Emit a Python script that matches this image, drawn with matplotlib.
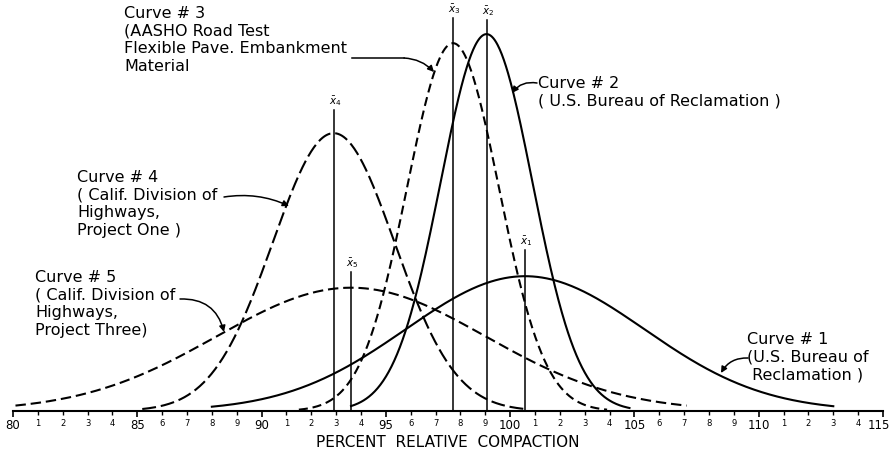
import numpy as np
import matplotlib
matplotlib.use("Agg")
import matplotlib.pyplot as plt
from matplotlib.transforms import ScaledTranslation

# Curves 1..5 (means are the x-bar lines)
curve_ids = ["1", "2", "3", "4", "5"]
means = [100.6, 99.05, 97.7, 92.9, 93.6]
std_devs = [4.8, 1.85, 1.85, 2.45, 5.4]
peak_heights = [0.328, 0.917, 0.895, 0.676, 0.300]
x_start = [88.0, 93.6, 91.5, 85.2, 80.1]
x_end = [113.0, 104.8, 103.9, 100.6, 107.1]

# tops of the x-bar marker lines (same scale as the curves)
xbar_tops = [0.392, 0.951, 0.956, 0.732, 0.338]

labels = {
    "1": "Curve # 1\n(U.S. Bureau of\n Reclamation )",
    "2": "Curve # 2\n( U.S. Bureau of Reclamation )",
    "3": "Curve # 3\n(AASHO Road Test\nFlexible Pave. Embankment\nMaterial",
    "4": "Curve # 4\n( Calif. Division of\nHighways,\nProject One )",
    "5": "Curve # 5\n( Calif. Division of\nHighways,\nProject Three)",
}

major_ticks = list(range(80, 116, 5))
minor_ticks = [t for t in range(80, 116) if t % 5 != 0]
major_labels = [str(t) for t in major_ticks]
minor_labels = [str(t % 10) for t in minor_ticks]

W, H = 892, 459
AX_LEFT, AX_RIGHT, AX_BOTTOM = 13, 883, 411   # pixel positions


def px(xp, yp):
    # pixel position in the picture -> data coords
    return (80 + (xp - AX_LEFT) / (AX_RIGHT - AX_LEFT) * 35, (AX_BOTTOM - yp) / AX_BOTTOM)


plt.rcParams["font.family"] = "DejaVu Sans"
plt.rcParams["lines.scale_dashes"] = False

fig = plt.figure(figsize=(W / 100, H / 100), dpi=100)
ax = fig.add_axes([AX_LEFT / W, (H - AX_BOTTOM) / H, (AX_RIGHT - AX_LEFT) / W, AX_BOTTOM / H])
ax.set_xlim(80, 115)
ax.set_ylim(0, 1)

styles = {
    "1": dict(linestyle="-"),
    "2": dict(linestyle="-"),
    "3": dict(dashes=(6.5, 3.5)),
    "4": dict(dashes=(10, 3.5)),
    "5": dict(dashes=(7.5, 3.5)),
}

for i, cid in enumerate(curve_ids):
    x = np.linspace(x_start[i], x_end[i], 400)
    y = peak_heights[i] * np.exp(-0.5 * ((x - means[i]) / std_devs[i]) ** 2)
    ax.plot(x, y, color="black", lw=1.5, **styles[cid])
    # x-bar line and label
    ax.plot([means[i], means[i]], [0, xbar_tops[i]], color="black", lw=1.1)
    ax.text(means[i] + 0.05, xbar_tops[i] + 0.005, r"$\bar{x}_%s$" % cid,
            fontsize=7.5, ha="center", va="bottom")

# labels and leader arrows (positions in pixels of the reference)
text_pos = {"1": (747, 332), "2": (538, 76), "3": (124, 6), "4": (77, 170), "5": (35, 270)}
arrows = {
    "1": ((748, 358), (721, 373), 0.3),
    "2": ((537, 83), (512, 93), 0.3),
    "3": ((404, 58), (434, 72), -0.2),
    "4": ((224, 197), (289, 206), -0.15),
    "5": ((180, 299), (224, 332), -0.4),
}
for cid in curve_ids:
    tx, ty = px(*text_pos[cid])
    ax.text(tx, ty, labels[cid], fontsize=11.5, ha="left", va="top", linespacing=1.22)
    start, tip, rad = arrows[cid]
    ax.annotate("", xy=px(*tip), xytext=px(*start),
                arrowprops=dict(arrowstyle="-|>", color="black", lw=1.1, mutation_scale=9,
                                shrinkA=0, shrinkB=0,
                                connectionstyle="arc3,rad=%s" % rad))
# straight part of the curve 3 leader
ax.plot([px(352, 58)[0], px(404, 58)[0]], [px(352, 58)[1]] * 2, color="black", lw=1.1)

for s in ["left", "right", "top"]:
    ax.spines[s].set_visible(False)
ax.spines["bottom"].set_linewidth(1.5)
ax.set_yticks([])
ax.set_xticks(major_ticks, labels=major_labels)
ax.set_xticks(minor_ticks, labels=minor_labels, minor=True)
ax.tick_params(axis="x", which="major", length=4, width=1.2, pad=2, labelsize=8.5)
ax.tick_params(axis="x", which="minor", length=3, width=1.0, pad=2.5, labelsize=6)
# keep "115" inside the picture
last = ax.get_xticklabels()[-1]
last.set_transform(last.get_transform() + ScaledTranslation(-4 / 100, 0, fig.dpi_scale_trans))
ax.set_xlabel("PERCENT  RELATIVE  COMPACTION", fontsize=11, labelpad=2)

fig.savefig("out.png", dpi=100)
